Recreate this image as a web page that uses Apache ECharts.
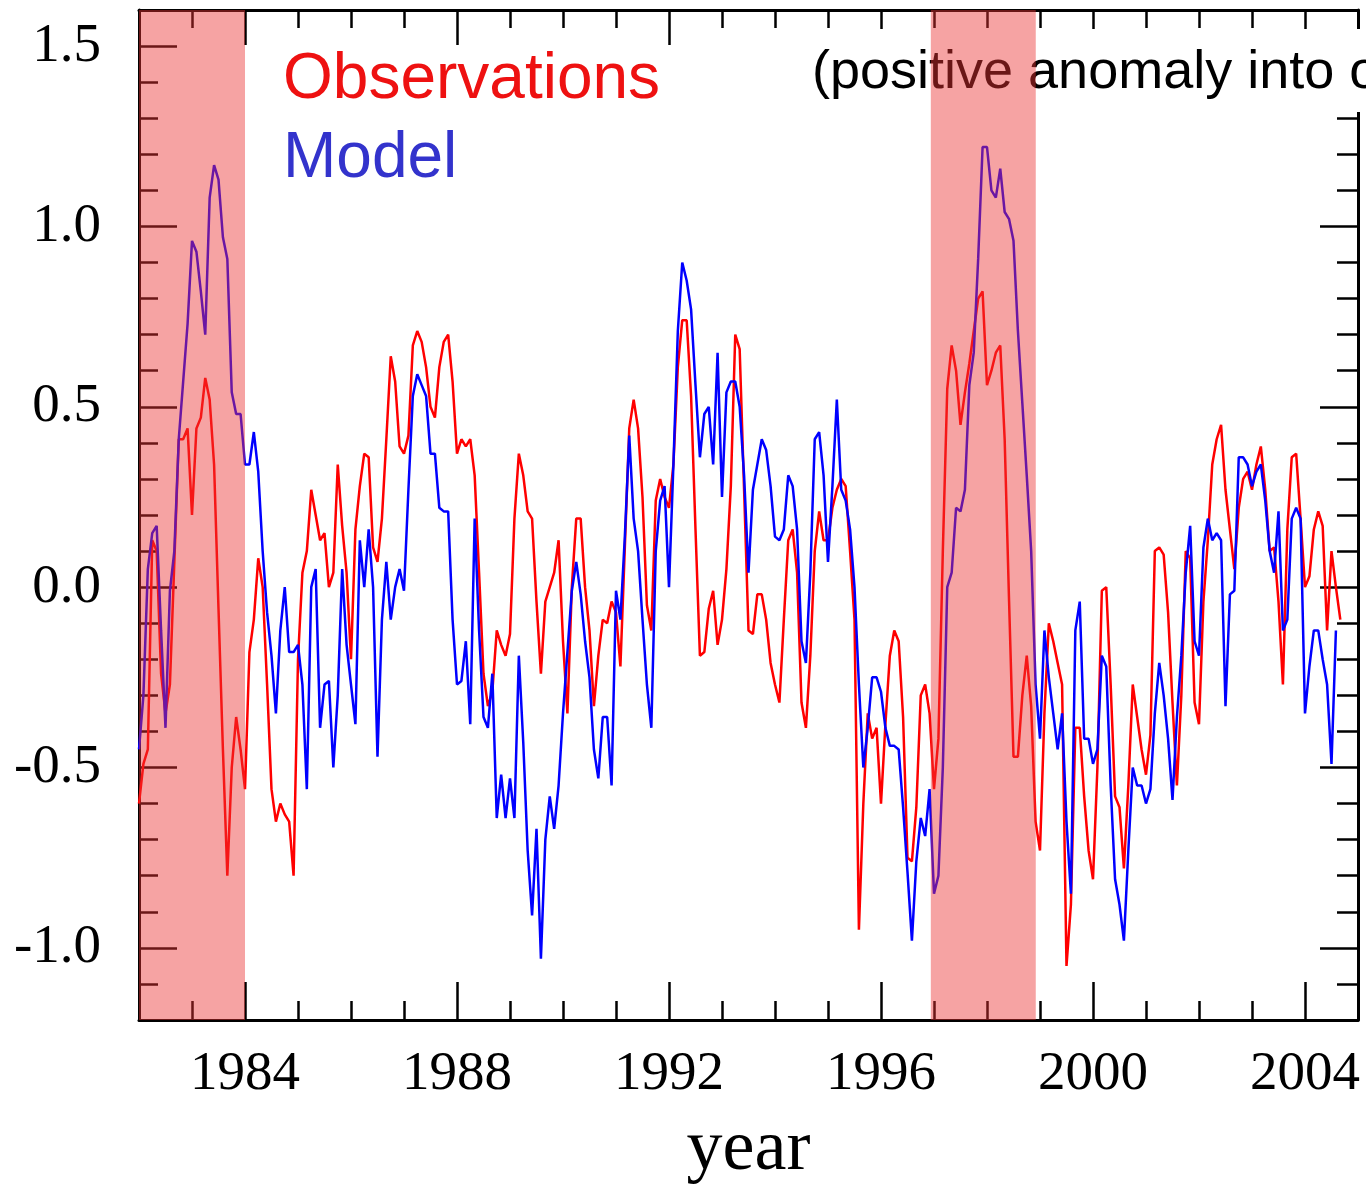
<!DOCTYPE html>
<html>
<head>
<meta charset="utf-8">
<style>
html,body{margin:0;padding:0;background:#fff;}
#chart{width:1366px;height:1191px;}
</style>
<script src="https://cdn.jsdelivr.net/npm/echarts@6/dist/echarts.min.js"></script>
</head>
<body>
<div id="chart"></div>
<script>
// ---- data (monthly values, starting January 1982) ----
const startYear = 1982;
const observations = [
-0.6,-0.49,-0.45,0.13,0.1,-0.24,-0.35,-0.27,0.07,0.41,0.41,0.44,0.2,0.44,0.47,0.58,0.52,0.34,-0.06,-0.45,
-0.8,-0.5,-0.36,-0.45,-0.56,-0.18,-0.09,0.08,0.0,-0.27,-0.56,-0.65,-0.6,-0.63,-0.65,-0.8,-0.2,0.04,0.1,0.27,
0.2,0.13,0.15,0.0,0.04,0.34,0.17,0.04,-0.2,0.16,0.28,0.37,0.36,0.11,0.07,0.19,0.41,0.64,0.57,0.39,
0.37,0.42,0.67,0.71,0.68,0.61,0.5,0.47,0.61,0.68,0.7,0.57,0.37,0.41,0.39,0.41,0.31,0.04,-0.24,-0.33,
-0.29,-0.12,-0.16,-0.19,-0.13,0.19,0.37,0.31,0.21,0.19,-0.04,-0.24,-0.04,0.0,0.04,0.13,-0.15,-0.35,0.0,0.19,
0.19,0.0,-0.12,-0.33,-0.19,-0.09,-0.1,-0.04,-0.07,-0.22,0.11,0.44,0.52,0.44,0.25,-0.05,-0.12,0.24,0.3,0.25,
0.22,0.34,0.61,0.74,0.74,0.53,0.16,-0.19,-0.18,-0.06,-0.01,-0.16,-0.09,0.05,0.28,0.7,0.66,0.27,-0.12,-0.13,
-0.02,-0.02,-0.09,-0.21,-0.27,-0.32,-0.09,0.13,0.16,0.04,-0.32,-0.39,-0.19,0.1,0.21,0.13,0.13,0.22,0.27,0.3,
0.28,0.1,-0.09,-0.95,-0.6,-0.35,-0.42,-0.39,-0.6,-0.38,-0.19,-0.12,-0.15,-0.36,-0.75,-0.76,-0.61,-0.3,-0.27,-0.35,
-0.56,-0.42,0.1,0.55,0.67,0.6,0.45,0.54,0.62,0.71,0.8,0.82,0.56,0.6,0.65,0.67,0.41,-0.04,-0.47,-0.47,
-0.3,-0.19,-0.33,-0.65,-0.73,-0.35,-0.1,-0.15,-0.21,-0.27,-1.05,-0.88,-0.39,-0.39,-0.58,-0.73,-0.81,-0.5,-0.01,0.0,
-0.27,-0.58,-0.61,-0.78,-0.55,-0.27,-0.36,-0.45,-0.52,-0.41,0.1,0.11,0.09,-0.07,-0.32,-0.55,-0.3,0.1,0.08,-0.32,
-0.38,-0.04,0.13,0.34,0.41,0.45,0.27,0.16,0.05,0.22,0.3,0.32,0.27,0.34,0.39,0.27,0.1,0.11,-0.04,-0.27,
0.16,0.36,0.37,0.19,0.0,0.03,0.16,0.21,0.17,-0.12,0.1,0.0,-0.09
];
const model = [
-0.45,-0.3,0.05,0.15,0.17,-0.12,-0.39,-0.01,0.1,0.41,0.57,0.73,0.96,0.93,0.82,0.7,1.08,1.17,1.13,0.97,
0.91,0.54,0.48,0.48,0.34,0.34,0.43,0.32,0.1,-0.07,-0.19,-0.35,-0.12,0.0,-0.18,-0.18,-0.16,-0.27,-0.56,0.0,
0.05,-0.39,-0.27,-0.26,-0.5,-0.3,0.05,-0.16,-0.27,-0.38,0.13,0.0,0.16,0.0,-0.47,-0.09,0.07,-0.09,0.0,0.05,
-0.01,0.27,0.53,0.59,0.56,0.53,0.37,0.37,0.22,0.21,0.21,-0.09,-0.27,-0.26,-0.15,-0.38,0.19,-0.12,-0.36,-0.39,
-0.24,-0.64,-0.52,-0.64,-0.53,-0.64,-0.19,-0.43,-0.73,-0.91,-0.67,-1.03,-0.7,-0.58,-0.67,-0.55,-0.35,-0.18,-0.01,0.07,
-0.02,-0.15,-0.25,-0.45,-0.53,-0.36,-0.36,-0.55,-0.01,-0.09,0.14,0.42,0.19,0.1,-0.09,-0.27,-0.39,0.1,0.24,0.28,
0.0,0.34,0.71,0.9,0.85,0.77,0.56,0.36,0.48,0.5,0.34,0.65,0.25,0.54,0.57,0.57,0.5,0.31,0.04,0.27,
0.34,0.41,0.38,0.28,0.14,0.13,0.16,0.31,0.28,0.16,-0.15,-0.21,0.04,0.41,0.43,0.31,0.07,0.28,0.52,0.27,
0.24,0.16,0.0,-0.27,-0.5,-0.39,-0.25,-0.25,-0.29,-0.39,-0.44,-0.44,-0.45,-0.61,-0.79,-0.98,-0.76,-0.64,-0.69,-0.56,
-0.85,-0.8,-0.5,0.0,0.04,0.22,0.21,0.27,0.56,0.65,0.91,1.22,1.22,1.1,1.08,1.16,1.04,1.02,0.96,0.71,
0.51,0.31,0.1,-0.27,-0.42,-0.12,-0.25,-0.35,-0.45,-0.35,-0.65,-0.85,-0.12,-0.04,-0.42,-0.42,-0.49,-0.45,-0.19,-0.22,
-0.55,-0.81,-0.88,-0.98,-0.73,-0.5,-0.55,-0.55,-0.6,-0.56,-0.35,-0.21,-0.3,-0.42,-0.59,-0.36,-0.19,0.04,0.17,-0.15,
-0.19,0.11,0.19,0.13,0.15,0.13,-0.33,-0.02,-0.01,0.36,0.36,0.34,0.28,0.32,0.34,0.24,0.1,0.04,0.21,-0.12,
-0.09,0.19,0.22,0.19,-0.35,-0.22,-0.12,-0.12,-0.2,-0.27,-0.49,-0.12
];
const majorYears = [1984, 1988, 1992, 1996, 2000, 2004];
const majorValues = [-1.0, -0.5, 0.0, 0.5, 1.0, 1.5];
const bands = [[1982.0, 1984.0], [1996.94, 1998.92]];
const seriesNames = ['Observations', 'Model'];
const annotation = '(positive anomaly into ocean)';

// ---- chart ----
const toPairs = arr => arr.map((v, i) => [startYear + i / 12, v]);
const X_MIN = 1982, X_MAX = 2005, Y_MIN = -1.2, Y_MAX = 1.6;
const serif = 'Liberation Serif, Times New Roman, serif';
const sans = 'Liberation Sans, Arial, sans-serif';
const tickStyle = {color: '#000', width: 2.5};

function xAx(position, len, custom, withLine, withLabel) {
  const a = {
    type: 'value', min: X_MIN, max: X_MAX, interval: 1, position: position,
    axisLine: {show: withLine, onZero: false, lineStyle: {color: '#000', width: 3}},
    axisTick: {show: true, inside: true, length: len, lineStyle: tickStyle},
    splitLine: {show: false},
    axisLabel: {show: false}
  };
  if (custom) a.axisTick.customValues = majorYears;
  if (withLabel) {
    a.axisLabel = {show: true, customValues: majorYears, margin: 27,
      fontFamily: serif, fontSize: 55, color: '#000', formatter: v => String(v)};
    a.name = 'year';
    a.nameLocation = 'middle';
    a.nameGap = 94;
    a.nameTextStyle = {fontFamily: serif, fontSize: 72, color: '#000'};
  }
  return a;
}
function yAx(position, len, custom, withLine, withLabel) {
  const a = {
    type: 'value', min: Y_MIN, max: Y_MAX, interval: 0.1, position: position,
    axisLine: {show: withLine, onZero: false, lineStyle: {color: '#000', width: 3}},
    axisTick: {show: true, inside: true, length: len, lineStyle: tickStyle},
    splitLine: {show: false},
    axisLabel: {show: false}
  };
  if (custom) a.axisTick.customValues = majorValues;
  if (withLabel) {
    a.axisLabel = {show: true, customValues: majorValues, margin: 38,
      fontFamily: serif, fontSize: 55, color: '#000', formatter: v => v.toFixed(1)};
  }
  return a;
}

const chart = echarts.init(document.getElementById('chart'), null, {renderer: 'canvas'});
chart.setOption({
  animation: false,
  backgroundColor: '#fff',
  grid: {left: 139, top: 10, width: 1219, height: 1013, containLabel: false},
  xAxis: [
    xAx('bottom', 19, false, true, true),
    xAx('bottom', 38, true, false, false),
    xAx('top', 18, false, true, false),
    xAx('top', 35, true, false, false)
  ],
  yAxis: [
    yAx('left', 19, false, true, true),
    yAx('left', 38, true, false, false),
    yAx('right', 21, false, true, false),
    yAx('right', 38, true, false, false)
  ],
  graphic: [
    {type: 'text', left: 283, top: 48, z: 6, style: {text: seriesNames[0], fill: '#ee1111', font: '64px ' + sans}},
    {type: 'text', left: 283, top: 127, z: 6, style: {text: seriesNames[1], fill: '#3333cc', font: '64px ' + sans}},
    {type: 'rect', shape: {x: 802, y: 29, width: 564, height: 83}, z: 5, silent: true, style: {fill: '#fff'}},
    {type: 'text', left: 812, top: 46, z: 6, style: {text: annotation, fill: '#000', font: '54px ' + sans}}
  ],
  series: [
    {name: seriesNames[0], type: 'line', data: toPairs(observations), showSymbol: false, z: 2,
      lineStyle: {color: '#ff0000', width: 2.5}, itemStyle: {color: '#ff0000'}},
    {name: seriesNames[1], type: 'line', data: toPairs(model), showSymbol: false, z: 3,
      lineStyle: {color: '#0000ff', width: 2.5}, itemStyle: {color: '#0000ff'}},
    {name: 'bands', type: 'line', data: [], z: 20, silent: true,
      markArea: {silent: true, z: 20, itemStyle: {color: 'rgba(235,50,50,0.45)'},
        data: bands.map(b => [{xAxis: b[0]}, {xAxis: b[1]}])}}
  ]
});
</script>
</body>
</html>
